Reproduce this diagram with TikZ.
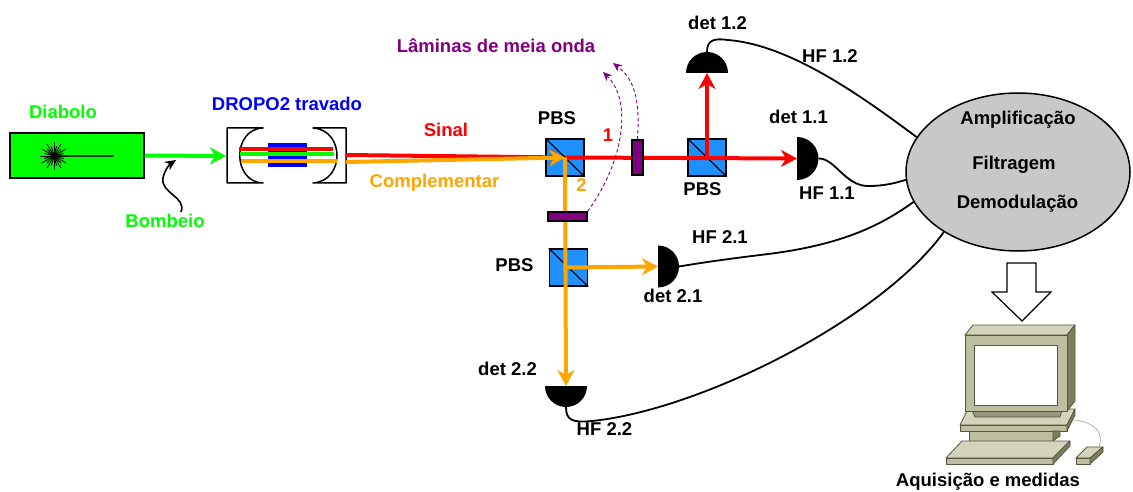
\documentclass[tikz,border=0pt]{standalone}
\usepackage{fontspec}
\setmainfont{Liberation Sans}
\usetikzlibrary{arrows.meta,shapes.geometric,calc}
\definecolor{pumpgreen}{RGB}{0,255,0}
\definecolor{sigred}{RGB}{255,0,0}
\definecolor{idlorange}{RGB}{255,165,0}
\definecolor{cavblue}{RGB}{0,0,255}
\definecolor{wpurple}{RGB}{128,0,128}
\definecolor{cubeblue}{RGB}{30,144,255}
\definecolor{procgray}{RGB}{200,200,200}
\definecolor{pcface}{RGB}{190,190,160}
\definecolor{pctop}{RGB}{212,212,188}
\definecolor{pcside}{RGB}{125,125,95}
\definecolor{pcline}{RGB}{85,85,65}

\begin{document}
\begin{tikzpicture}[x=1pt,y=-1pt,
  lbl/.style={font=\fontsize{18.5}{20}\selectfont\bfseries, anchor=base, inner sep=0pt},
  beam/.style={line width=4pt},
  beamhead/.style={-{Stealth[length=16pt,width=17pt,inset=5pt]}},
  cubebox/.style={draw, line width=1.5pt, fill=cubeblue, minimum width=38pt, minimum height=37pt, inner sep=0pt},
  plate/.style={draw, line width=1.2pt, fill=wpurple, inner sep=0pt},
  cable/.style={line width=1.8pt},
  wpturn/.style={wpurple, line width=0.9pt, dash pattern=on 3.5pt off 2.5pt, -{Stealth[length=9pt,width=8pt]}},
  pc/.style={draw=pcline, line width=0.8pt, line join=round}
]
\useasboundingbox (0,0) rectangle (1133,492);

% ---------- pump laser ----------
\node[draw, line width=1.5pt, fill=pumpgreen, minimum width=134pt, minimum height=45pt, inner sep=0pt] (laser) at (77,155.5) {};
\draw[line width=1.2pt, black!75!green] (54,156) -- (114,156);
\foreach \a in {0,30,...,330} \draw[line width=0.9pt] (54,156) -- ++(\a:14);
\foreach \a in {15,45,...,345} \draw[line width=0.9pt] (54,156) -- ++(\a:10);
\fill (54,156) circle (3.5);
\node[lbl, pumpgreen] (diabolo) at (63,118.5) {Diabolo};
\node[lbl, pumpgreen] (bomb) at (165,227) {Bombeio};
\coordinate (pumpmark) at (176,160);
\coordinate (pumptail) at (181,212);
\draw[line width=1.6pt, -{Stealth[length=11pt,width=10pt]}] (pumptail) .. controls (187,197) and (160,193) .. (163,178) .. controls (165,169) and (170,164) .. (pumpmark);

% ---------- DROPO cavity ----------
\draw[line width=1.5pt, fill=white, line join=round] (263,128) -- (227,128) -- (227,183) -- (263,183) .. controls (232,182) and (232,129) .. (263,128) -- cycle;
\draw[line width=1.5pt, fill=white, line join=round] (313,128) -- (346,128) -- (346,183) -- (313,183) .. controls (345,181) and (345,130) .. (313,128) -- cycle;
\coordinate (mirL) at (226,156);
\coordinate (outS) at (346,155);
\coordinate (outI) at (346,162);
\node[fill=cavblue, minimum width=39pt, minimum height=24pt, inner sep=0pt] (crystal) at (287.5,155) {};
\draw[beam, sigred] (239,149) -- (333,149);
\draw[beam, pumpgreen] (240,154.5) -- (334,154.5);
\draw[beam, idlorange] (241,161) -- (337,161);
\node[lbl, cavblue] (dropo) at (287,111) {DROPO2 travado};

\draw[beam, pumpgreen, beamhead] (laser.east) -- (mirL);

% ---------- beam splitters ----------
\node[cubebox] (pbsA) at (565,157.5) {};
\node[cubebox] (pbsB) at (707,157.5) {};
\node[cubebox] (pbsC) at (568.5,267.5) {};
\foreach \c in {pbsA,pbsB,pbsC} \draw[line width=1.2pt] (\c.north west) -- (\c.south east);

% ---------- detectors ----------
\coordinate (detA) at (797,158.5);
\coordinate (detB) at (707,73);
\coordinate (detC) at (658,266.5);
\coordinate (detD) at (566,386);

% ---------- beams ----------
\draw[beam, sigred, beamhead] (outS) -- (pbsA.center);
\draw[beam, idlorange, beamhead] (outI) -- (pbsA.center);
\draw[beam, sigred, beamhead] (pbsA.center) -- (detA);
\draw[beam, sigred, beamhead] (pbsB.center) -- (detB);
\draw[beam, idlorange, beamhead] (pbsA.center) -- (detD);
\draw[beam, idlorange, beamhead] (pbsC.center -| pbsA.center) -- (detC);

% ---------- half-wave plates ----------
\node[plate, minimum width=11pt, minimum height=35pt] (plateA) at (637.5,157.5) {};
\node[plate, minimum width=39pt, minimum height=9pt] (plateB) at (567.5,216.5) {};
\coordinate (wpA) at (613,63);
\coordinate (wpB) at (603,72);
\draw[wpturn] (plateA.north) .. controls (640,100) and (635,80) .. (wpA);
\draw[wpturn] (plateB.north east) .. controls (625,160) and (632,100) .. (wpB);

% detector heads
\fill (detA) ++(0,-21.5) arc[start angle=270, end angle=450, radius=21.5] -- cycle;
\fill (detB) ++(-21,0) arc[start angle=180, end angle=360, radius=21] -- cycle;
\fill (detC) ++(0,-21) arc[start angle=270, end angle=450, radius=21] -- cycle;
\fill (detD) ++(-21,0) arc[start angle=180, end angle=0, radius=21] -- cycle;

% ---------- electronics ----------
\node[ellipse, draw, line width=1.5pt, fill=procgray, minimum width=224pt, minimum height=158pt, inner sep=0pt] (proc) at (1018,172) {};
\node[lbl] (amp) at (1018,125) {Amplificação};
\node[lbl] (filt) at (1014,170) {Filtragem};
\node[lbl] (demod) at (1017.5,208) {Demodulação};

\draw[cable] ($(detB)+(0,-21)$) .. controls +(0,-12) and (714,38) .. (728,40) .. controls (790,45) and (860,95) .. (proc.161);
\draw[cable] ($(detA)+(21.5,0)$) .. controls (835,158) and (845,186) .. (868,186) .. controls (885,186) and (895,183) .. (proc.184);
\draw[cable] ($(detC)+(21,0)$) .. controls (700,263) and (720,260) .. (760,255) .. controls (840,246) and (880,226) .. (proc.196);
\draw[cable] ($(detD)+(0,21)$) .. controls (566,420) and (572,423) .. (592,421) .. controls (700,410) and (880,320) .. (proc.219);

% ---------- labels ----------
\node[lbl, sigred] (sinal) at (446,137) {Sinal};
\node[lbl, idlorange] (compl) at (434.5,188) {Complementar};
\node[lbl] (lpbsA) at (557,125) {PBS};
\node[lbl, sigred] (one) at (608,141.5) {1};
\node[lbl, idlorange] (two) at (581.5,191.5) {2};
\node[lbl, wpurple] (laminas) at (496,52.5) {Lâminas de meia onda};
\node[lbl] (lpbsB) at (702.5,195) {PBS};
\node[lbl] (lpbsC) at (514.5,271.5) {PBS};
\node[lbl] (ldetB) at (717.5,30) {det 1.2};
\node[lbl] (lhfB) at (830,63) {HF 1.2};
\node[lbl] (ldetA) at (798.5,124) {det 1.1};
\node[lbl] (lhfA) at (827,200) {HF 1.1};
\node[lbl] (ldetC) at (673,302) {det 2.1};
\node[lbl] (lhfC) at (720,243) {HF 2.1};
\node[lbl] (ldetD) at (507.5,375) {det 2.2};
\node[lbl] (lhfD) at (604.5,435) {HF 2.2};

% ---------- block arrow to acquisition ----------
\draw[line width=1.2pt, fill=white, line join=miter] (1007,263) -- (1036,263) -- (1036,292) -- (1051,292) -- (1022,321) -- (992,292) -- (1007,292) -- cycle;

% ---------- computer ----------
% desktop case
\filldraw[pc, fill=pctop] (960,425) -- (968,409) -- (1075,409) -- (1067,425) -- cycle;
\filldraw[pc, fill=pcface] (960,425) rectangle (1067,431);
\filldraw[pc, fill=pcside] (1067,425) -- (1075,409) -- (1075,415) -- (1067,431) -- cycle;
\filldraw[pc, fill=pcface] (969,431) rectangle (1053,441);
\filldraw[pc, fill=pcside] (1053,431) -- (1060,431) -- (1060,436) -- (1053,441) -- cycle;
% monitor foot
\filldraw[pc, fill=pcface!80!black] (972,410) -- (1062,410) -- (1060,417) -- (975,417) -- cycle;
% monitor
\filldraw[pc, fill=pctop] (965,335) -- (973,325) -- (1075,325) -- (1067,335) -- cycle;
\filldraw[pc, fill=pcside] (1067,335) -- (1075,325) -- (1075,401) -- (1067,411) -- cycle;
\filldraw[pc, fill=pcface] (965,335) rectangle (1067,411);
\filldraw[pc, fill=white] (974,345) rectangle (1057,405);
% keyboard
\filldraw[pc, fill=pctop] (946,458) -- (962,441) -- (1070,441) -- (1053,458) -- cycle;
\filldraw[pc, fill=pcface] (946,458) rectangle (1053,464);
\filldraw[pc, fill=pcside] (1053,458) -- (1070,441) -- (1070,446) -- (1053,464) -- cycle;
% mouse and its cord
\draw[gray!60, line width=0.8pt] (1099,447) .. controls (1104,432) and (1095,423) .. (1075,420);
\filldraw[pc, fill=pctop] (1076,458) -- (1087,447) -- (1103,447) -- (1090,458) -- cycle;
\filldraw[pc, fill=pcface] (1076,458) rectangle (1090,464);
\filldraw[pc, fill=pcside] (1090,458) -- (1103,447) -- (1103,452) -- (1090,464) -- cycle;
\node[lbl] (acq) at (988,486) {Aquisição e medidas};
\end{tikzpicture}
\end{document}
